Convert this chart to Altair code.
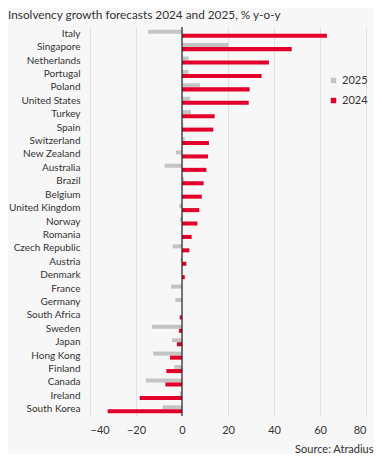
import altair as alt
import pandas as pd

countries = ["Italy", "Singapore", "Netherlands", "Portugal", "Poland", "United States",
             "Turkey", "Spain", "Switzerland", "New Zealand", "Australia", "Brazil",
             "Belgium", "United Kingdom", "Norway", "Romania", "Czech Republic", "Austria",
             "Denmark", "France", "Germany", "South Africa", "Sweden", "Japan",
             "Hong Kong", "Finland", "Canada", "Ireland", "South Korea"]
v2025 = [-14.8, 20.3, 2.9, 2.8, 7.8, 3.5, 3.9, 0.6, 1.2, -2.6, -7.6, 1.0,
         0.0, -1.2, -0.9, 0.0, -4.1, -0.7, 0.0, -4.8, -2.9, 0.0, -13.0, -4.3,
         -12.5, -3.3, -15.7, -1.0, -8.4]
v2024 = [63.0, 47.7, 37.8, 34.6, 29.4, 29.0, 14.2, 13.6, 11.7, 11.3, 10.6, 9.4,
         8.6, 7.5, 6.7, 4.2, 3.2, 1.9, 1.2, 0.0, 0.0, -1.0, -1.3, -2.2,
         -5.2, -6.8, -7.2, -18.4, -32.3]
series = ["2025", "2024"]
colors = ["#c4c4c4", "#e2002b"]
x_ticks = [-40, -20, 0, 20, 40, 60, 80]

rows = []
for c, a, b in zip(countries, v2025, v2024):
    rows.append({"country": c, "series": "2025", "value": a})
    rows.append({"country": c, "series": "2024", "value": b})
df = pd.DataFrame(rows)

FONT = "Lato"
TXT = "#333333"

bars = alt.Chart(df).mark_bar().encode(
    x=alt.X("value:Q",
            scale=alt.Scale(domain=[-40, 80], nice=False),
            axis=alt.Axis(values=x_ticks, grid=True, gridColor="#e2e2e2",
                          domain=False, ticks=False, labelPadding=8,
                          labelFontSize=11, labelColor=TXT, labelFont=FONT,
                          title="Source: Atradius", titleFont=FONT,
                          titleFontSize=11, titleFontWeight="normal",
                          titleColor=TXT, titleAlign="right",
                          titleBaseline="alphabetic", titleX=283, titleY=36)),
    y=alt.Y("country:N", sort=countries,
            scale=alt.Scale(paddingInner=0.4, paddingOuter=0.2),
            axis=alt.Axis(title=None, domain=False, ticks=False, grid=False,
                          labelPadding=10, labelFontSize=10, labelColor=TXT,
                          labelFont=FONT)),
    yOffset=alt.YOffset("series:N", sort=series,
                        scale=alt.Scale(paddingInner=0, paddingOuter=0)),
    color=alt.Color("series:N",
                    scale=alt.Scale(domain=series, range=colors),
                    legend=alt.Legend(title=None, orient="none", legendX=238,
                                      legendY=48, symbolType="square",
                                      symbolSize=30, symbolStrokeWidth=0,
                                      labelFont=FONT, labelFontSize=11,
                                      labelColor=TXT, labelOffset=3,
                                      rowPadding=8, padding=0)),
)

zero = alt.Chart(pd.DataFrame({"x": [0]})).mark_rule(color="#222222", strokeWidth=1.2).encode(
    x="x:Q"
)

chart = alt.layer(bars, zero).properties(
    width=276,
    height=389,
    padding={"left": 82, "top": 19, "right": 8, "bottom": 38},
    autosize=alt.AutoSizeParams(type="none"),
    background="#f7f7f7",
    title=alt.TitleParams("Insolvency growth forecasts 2024 and 2025, % y-o-y",
                          anchor="start", frame="group", dx=-82, offset=9, dy=13,
                          baseline="alphabetic", font=FONT, fontSize=11.8,
                          fontWeight="normal", color=TXT),
).configure_view(stroke=None, fill="#f7f7f7")

chart.save("out.html", embed_options={"renderer": "svg", "actions": False})
